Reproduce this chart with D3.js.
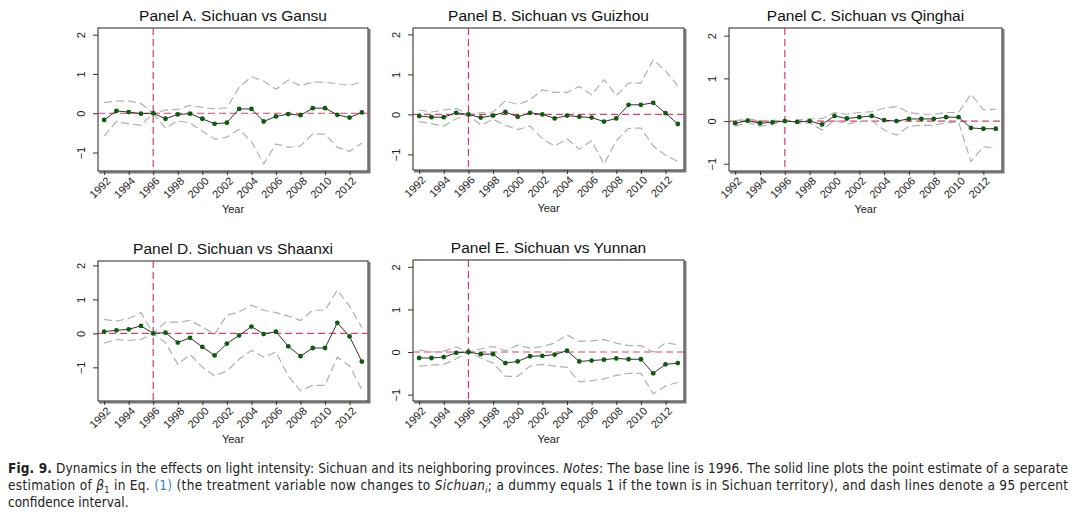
<!DOCTYPE html>
<html>
<head>
<meta charset="utf-8">
<script src="https://cdn.jsdelivr.net/npm/d3@7"></script>
<style>
  body { margin: 0; background: #fff; }
  svg { display: block; }
  .tick text { font-family: "Liberation Sans", Arial, sans-serif; }
  .caption { font-family: "Liberation Sans Narrow", "DejaVu Sans", sans-serif; font-stretch: condensed; }
</style>
</head>
<body>
<div id="chart"></div>
<script>
// Data
var years = d3.range(1992, 2014);
var xTickYears = [1992, 1994, 1996, 1998, 2000, 2002, 2004, 2006, 2008, 2010, 2012];
var yTicks = [-1, 0, 1, 2];
var baseYear = 1996;

var estA = [-0.17, 0.06, 0.03, -0.01, 0, -0.14, -0.03, -0.01, -0.14, -0.27, -0.24, 0.11, 0.11, -0.21, -0.08, -0.02, -0.05, 0.13, 0.13, -0.04, -0.11, 0.02];
var upA  = [0.27, 0.31, 0.31, 0.25, 0, 0.08, 0.10, 0.20, 0.15, 0.11, 0.14, 0.66, 0.93, 0.82, 0.61, 0.85, 0.70, 0.79, 0.79, 0.75, 0.71, 0.80];
var loA  = [-0.58, -0.21, -0.27, -0.30, 0, -0.38, -0.19, -0.25, -0.45, -0.66, -0.61, -0.41, -0.72, -1.29, -0.78, -0.87, -0.83, -0.53, -0.53, -0.87, -0.97, -0.76];

var estB = [-0.04, -0.07, -0.07, 0.04, 0, -0.08, -0.03, 0.06, -0.06, 0.04, 0.00, -0.10, -0.03, -0.06, -0.08, -0.18, -0.10, 0.24, 0.24, 0.29, 0.03, -0.24];
var upB  = [0.11, 0.06, 0.11, 0.15, 0, 0.04, 0.06, 0.34, 0.25, 0.36, 0.61, 0.55, 0.55, 0.70, 0.49, 0.87, 0.47, 0.78, 0.78, 1.37, 1.09, 0.71];
var loB  = [-0.18, -0.23, -0.29, -0.11, 0, -0.27, -0.12, -0.27, -0.38, -0.29, -0.61, -0.79, -0.61, -0.87, -0.66, -1.24, -0.66, -0.35, -0.34, -0.79, -1.02, -1.18];

var estC = [-0.05, 0.01, -0.05, -0.03, 0, -0.02, 0.00, -0.08, 0.12, 0.06, 0.09, 0.12, 0.02, 0.00, 0.05, 0.05, 0.05, 0.09, 0.09, -0.16, -0.18, -0.18];
var upC  = [0.01, 0.05, 0.01, 0.02, 0, 0.02, 0.05, 0.06, 0.20, 0.16, 0.20, 0.22, 0.30, 0.34, 0.20, 0.16, 0.16, 0.20, 0.20, 0.63, 0.26, 0.28];
var loC  = [-0.12, -0.03, -0.12, -0.08, 0, -0.05, -0.04, -0.21, 0.02, -0.07, -0.02, 0.01, -0.21, -0.33, -0.12, -0.10, -0.10, -0.04, -0.02, -0.95, -0.60, -0.64];

var estD = [0.05, 0.09, 0.12, 0.22, 0, 0.02, -0.27, -0.13, -0.40, -0.65, -0.30, -0.06, 0.20, -0.02, 0.05, -0.38, -0.67, -0.43, -0.43, 0.31, -0.09, -0.83];
var upD  = [0.41, 0.36, 0.44, 0.61, 0, 0.33, 0.33, 0.38, 0.19, -0.03, 0.54, 0.63, 0.83, 0.68, 0.61, 0.51, 0.38, 0.68, 0.68, 1.27, 0.80, 0.17];
var loD  = [-0.29, -0.18, -0.21, -0.18, 0, -0.27, -0.91, -0.62, -0.99, -1.25, -1.11, -0.76, -0.50, -0.70, -0.55, -1.25, -1.69, -1.53, -1.53, -0.70, -0.96, -1.66];

var estE = [-0.14, -0.14, -0.12, -0.02, 0, -0.05, -0.05, -0.26, -0.22, -0.10, -0.09, -0.06, 0.03, -0.22, -0.20, -0.18, -0.15, -0.17, -0.17, -0.50, -0.29, -0.26];
var upE  = [0.05, 0.00, 0.02, 0.12, 0, 0.07, 0.13, 0.03, 0.16, 0.09, 0.13, 0.21, 0.40, 0.25, 0.26, 0.29, 0.21, 0.15, 0.15, 0.00, 0.22, 0.17];
var loE  = [-0.33, -0.31, -0.29, -0.16, 0, -0.14, -0.26, -0.57, -0.57, -0.33, -0.29, -0.33, -0.36, -0.70, -0.67, -0.63, -0.55, -0.50, -0.50, -0.98, -0.80, -0.71];

var titles = ["Panel A. Sichuan vs Gansu", "Panel B. Sichuan vs Guizhou", "Panel C. Sichuan vs Qinghai",
              "Panel D. Sichuan vs Shaanxi", "Panel E. Sichuan vs Yunnan"];

// layout of each panel (frame box + y range shown)
var panels = [
  { title: titles[0], est: estA, up: upA, lo: loA, x0: 98,  x1: 368,  y0: 28,  y1: 171, ymin: -1.47, ymax: 2.17 },
  { title: titles[1], est: estB, up: upB, lo: loB, x0: 413, x1: 684,  y0: 28,  y1: 170, ymin: -1.39, ymax: 2.16 },
  { title: titles[2], est: estC, up: upC, lo: loC, x0: 729, x1: 1002, y0: 28,  y1: 171, ymin: -1.17, ymax: 2.18 },
  { title: titles[3], est: estD, up: upD, lo: loD, x0: 98,  x1: 368,  y0: 261, y1: 401, ymin: -1.99, ymax: 2.13 },
  { title: titles[4], est: estE, up: upE, lo: loE, x0: 413, x1: 684,  y0: 260, y1: 401, ymin: -1.15, ymax: 2.16 }
];

var svgWidth = 1080;
var svgHeight = 517;
var font = '"Liberation Sans", Arial, Helvetica, sans-serif';

var svg = d3.select("#chart")
  .append("svg")
  .attr("width", svgWidth)
  .attr("height", svgHeight);

panels.forEach(function(p) {
  var x = d3.scaleLinear().domain([1991.5, 2013.5]).range([p.x0, p.x1]);
  var y = d3.scaleLinear().domain([p.ymin, p.ymax]).range([p.y1, p.y0]);
  var g = svg.append("g");

  // frame with a little shadow on right/bottom
  g.append("path")
    .attr("d", `M${p.x1 + 1.5},${p.y0 + 1}V${p.y1 + 1.5}H${p.x0 + 1}`)
    .attr("fill", "none").attr("stroke", "#777").attr("stroke-width", 2);
  g.append("rect")
    .attr("x", p.x0).attr("y", p.y0)
    .attr("width", p.x1 - p.x0).attr("height", p.y1 - p.y0)
    .attr("fill", "#fff").attr("stroke", "#222").attr("stroke-width", 1);

  // axes
  var leftAxis = d3.axisLeft(y).tickValues(yTicks).tickSize(5).tickFormat(d3.format("d"));
  var ax = g.append("g").attr("transform", `translate(${p.x0},0)`).call(leftAxis);
  ax.select(".domain").remove();
  ax.selectAll("line").attr("stroke", "#333");
  ax.selectAll("text")
    .attr("font-family", font)
    .attr("font-size", 11).attr("fill", "#222")
    .attr("text-anchor", "middle")
    .attr("x", null).attr("dy", null)
    .attr("transform", "translate(-17,0) rotate(-90)")
    .attr("y", 0).attr("dy", "0.35em");

  var bottomAxis = d3.axisBottom(x).tickValues(xTickYears).tickSize(4).tickFormat(d3.format("d"));
  var bx = g.append("g").attr("transform", `translate(0,${p.y1})`).call(bottomAxis);
  bx.select(".domain").remove();
  bx.selectAll("line").attr("stroke", "#333");
  bx.selectAll("text")
    .attr("font-family", font)
    .attr("font-size", 11).attr("fill", "#222")
    .attr("text-anchor", "end")
    .attr("y", null).attr("dy", null)
    .attr("transform", "translate(4,8) rotate(-45)")
    .attr("dy", "0.35em");

  // reference lines
  g.append("line")
    .attr("x1", p.x0).attr("x2", p.x1)
    .attr("y1", y(0)).attr("y2", y(0))
    .attr("stroke", "#e0406a").attr("stroke-width", 1.2)
    .attr("stroke-dasharray", "7,4");
  g.append("line")
    .attr("x1", x(baseYear)).attr("x2", x(baseYear))
    .attr("y1", p.y0).attr("y2", p.y1)
    .attr("stroke", "#d63a62").attr("stroke-width", 1.2)
    .attr("stroke-dasharray", "7,4");

  // confidence bands
  var line = function(arr) {
    return d3.line().x((d, i) => x(years[i])).y(d => y(d))(arr);
  };
  [p.up, p.lo].forEach(function(arr) {
    g.append("path")
      .attr("d", line(arr))
      .attr("fill", "none").attr("stroke", "#b0b0b0")
      .attr("stroke-width", 1.2).attr("stroke-dasharray", "8,4");
  });

  // point estimates
  g.append("path")
    .attr("d", line(p.est))
    .attr("fill", "none").attr("stroke", "#333").attr("stroke-width", 1);
  g.selectAll("circle.pt")
    .data(p.est)
    .enter()
    .append("circle")
    .attr("class", "pt")
    .attr("cx", (d, i) => x(years[i]))
    .attr("cy", d => y(d))
    .attr("r", 2.4)
    .attr("fill", "#0b5d0b");

  // titles
  g.append("text")
    .attr("x", (p.x0 + p.x1) / 2).attr("y", p.y0 - 7)
    .attr("text-anchor", "middle")
    .attr("font-family", font).attr("font-size", 15.5).attr("fill", "#111")
    .text(p.title);
  g.append("text")
    .attr("x", (p.x0 + p.x1) / 2).attr("y", p.y1 + 42)
    .attr("text-anchor", "middle")
    .attr("font-family", font).attr("font-size", 11).attr("fill", "#222")
    .text("Year");
});

// caption
var cap = svg.append("g").attr("class", "caption").attr("font-size", 13.5).attr("fill", "#222");

var l1 = cap.append("text").attr("x", 8).attr("y", 473)
  .attr("textLength", 1060).attr("lengthAdjust", "spacing");
l1.append("tspan").attr("font-weight", "bold").text("Fig. 9.");
l1.append("tspan").text(" Dynamics in the effects on light intensity: Sichuan and its neighboring provinces. ");
l1.append("tspan").attr("font-style", "italic").text("Notes");
l1.append("tspan").text(": The base line is 1996. The solid line plots the point estimate of a separate");

var l2 = cap.append("text").attr("x", 8).attr("y", 490)
  .attr("textLength", 1060).attr("lengthAdjust", "spacing");
l2.append("tspan").text("estimation of ");
l2.append("tspan").attr("font-style", "italic").text("β");
l2.append("tspan").attr("font-size", 9).attr("dy", 3).text("1");
l2.append("tspan").attr("dy", -3).text(" in Eq. ");
l2.append("tspan").attr("fill", "#3a7fc4").text("(1)");
l2.append("tspan").text(" (the treatment variable now changes to ");
l2.append("tspan").attr("font-style", "italic").text("Sichuan");
l2.append("tspan").attr("font-style", "italic").attr("font-size", 9).attr("dy", 3).text("i");
l2.append("tspan").attr("dy", -3).text("; a dummy equals 1 if the town is in Sichuan territory), and dash lines denote a 95 percent");

cap.append("text").attr("x", 8).attr("y", 507).text("confidence interval.");
</script>
</body>
</html>
